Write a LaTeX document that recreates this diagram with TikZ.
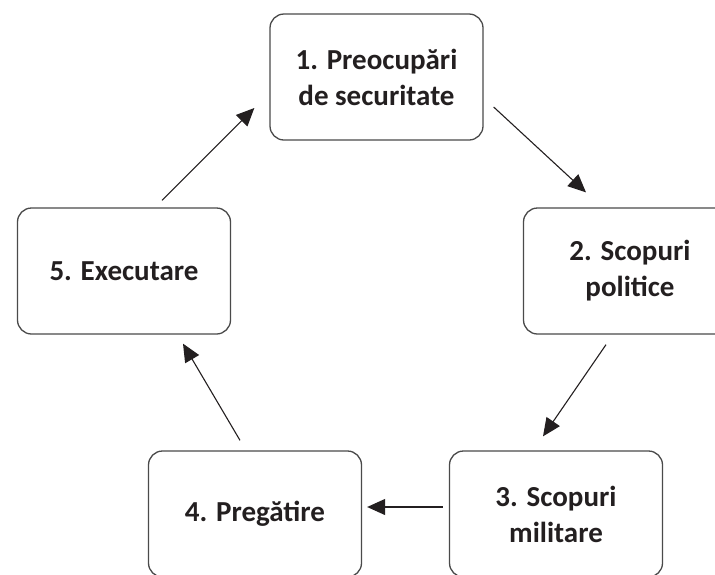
\documentclass[tikz,border=0pt]{standalone}
\usepackage{fontspec}
\setmainfont{Carlito}
\usepackage{tikz}
\usetikzlibrary{arrows.meta}

\definecolor{boxline}{HTML}{4A4A4A}
\definecolor{textcol}{HTML}{231F20}

\tikzset{
    stage/.style={draw=boxline, line width=1.3pt, rounded corners=14pt,
        minimum width=213pt, minimum height=126pt, align=center,
        text=textcol, font=\fontsize{29}{36}\selectfont\bfseries},
    flow/.style={line width=1.1pt, draw=textcol,
        -{Triangle[length=18pt,width=16pt]}}
}

\begin{document}
\begin{tikzpicture}[x=1pt, y=-1pt]
    % Page frame
    \useasboundingbox (0,0) rectangle (715,574);

    % Define the five stages
    \node[stage] (b1) at (376.5,77) {1. Preocupări\\de securitate};
    \node[stage] (b2) at (630,271) {2. Scopuri\\politice};
    \node[stage] (b3) at (556,514) {3. Scopuri\\militare};
    \node[stage] (b4) at (255,514) {4. Pregătire};
    \node[stage] (b5) at (124,271) {5. Executare};

    % Arrows of the cycle
    \draw[flow] ([shift={(10pt,-30pt)}]b1.east) -- ([shift={(-44pt,15pt)}]b2.north);
    \draw[flow] ([shift={(-24pt,-10pt)}]b2.south) -- ([shift={(-13pt,14pt)}]b3.north);
    \draw[flow] ([shift={(-6pt,7pt)}]b3.west) -- ([shift={(5pt,7pt)}]b4.east);
    \draw[flow] ([shift={(-15pt,10pt)}]b4.north) -- ([shift={(59pt,-9pt)}]b5.south);
    \draw[flow] ([shift={(38pt,7pt)}]b5.north) -- ([shift={(-15pt,-31pt)}]b1.west);

\end{tikzpicture}
\end{document}
